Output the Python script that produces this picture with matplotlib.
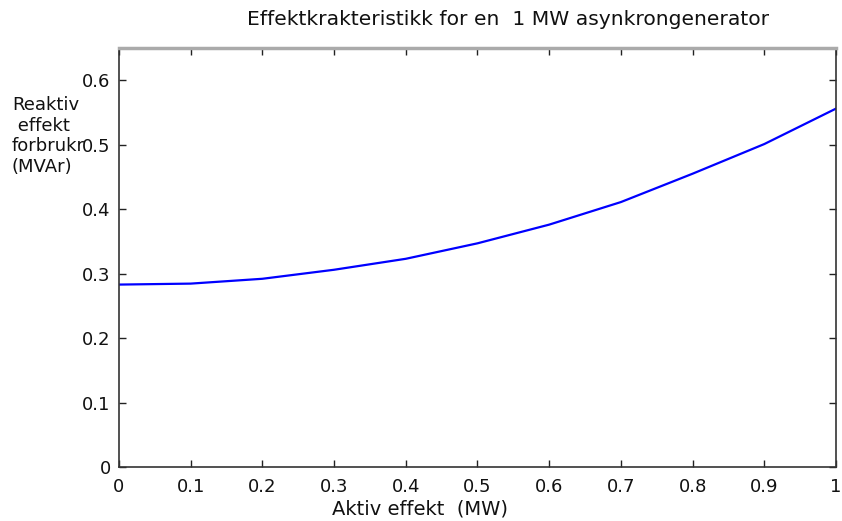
import matplotlib.pyplot as plt

# Aktiv effekt (MW) og reaktivt effektforbruk (MVAr)
aktiv = [0.0, 0.1, 0.2, 0.3, 0.4, 0.5, 0.6, 0.7, 0.8, 0.9, 1.0]
reaktiv = [0.283, 0.2845, 0.292, 0.306, 0.323, 0.347, 0.376, 0.411, 0.455, 0.501, 0.556]

x_ticks = [0, 0.1, 0.2, 0.3, 0.4, 0.5, 0.6, 0.7, 0.8, 0.9, 1]
x_labels = ["0", "0.1", "0.2", "0.3", "0.4", "0.5", "0.6", "0.7", "0.8", "0.9", "1"]
y_ticks = [0, 0.1, 0.2, 0.3, 0.4, 0.5, 0.6]
y_labels = ["0", "0.1", "0.2", "0.3", "0.4", "0.5", "0.6"]

plt.rcParams['font.family'] = ['DejaVu Sans']

fig = plt.figure(figsize=(8.42, 5.21), dpi=100)
ax = fig.add_axes([0.1413, 0.1036, 0.8516, 0.8043])

ax.plot(aktiv, reaktiv, color='#0000ff', linewidth=1.6)

ax.set_xlim(0, 1)
ax.set_ylim(0, 0.65)
ax.set_xticks(x_ticks)
ax.set_xticklabels(x_labels)
ax.set_yticks(y_ticks)
ax.set_yticklabels(y_labels)
ax.tick_params(direction='in', length=5, width=1, labelsize=13, color='#222222',
               top=True, right=True, labelcolor='#111111')
ax.tick_params(axis='x', pad=8)
ax.tick_params(axis='y', pad=6)

for side in ['left', 'bottom', 'right']:
    ax.spines[side].set_color('#333333')
    ax.spines[side].set_linewidth(1.2)
ax.spines['top'].set_color('#aaaaaa')
ax.spines['top'].set_linewidth(2.5)

fig.text(0.603, 0.963, "Effektkrakteristikk for en  1 MW asynkrongenerator",
         ha='center', va='center', fontsize=14.6, color='#111111')
fig.text(0.499, 0.023, "Aktiv effekt  (MW)", ha='center', va='center',
         fontsize=14, color='#111111')
fig.text(0.014, 0.739, "Reaktiv\n effekt\nforbrukr\n(MVAr)", ha='left', va='center',
         fontsize=13, color='#111111', linespacing=1.17)

fig.savefig("out.png", dpi=100)
